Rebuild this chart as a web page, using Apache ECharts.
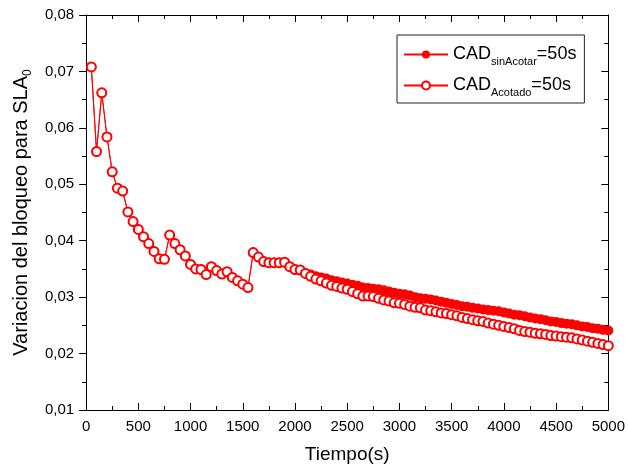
<!DOCTYPE html>
<html>
<head>
<meta charset="utf-8">
<script src="https://cdn.jsdelivr.net/npm/echarts@6/dist/echarts.min.js"></script>
<style>html,body{margin:0;padding:0;background:#fff;}#c{width:628px;height:471px;}</style>
</head>
<body>
<div id="c"></div>
<script>
const tiempo = [50,100,150,200,250,300,350,400,450,500,550,600,650,700,750,800,850,900,950,1000,
1050,1100,1150,1200,1250,1300,1350,1400,1450,1500,1550,1600,1650,1700,1750,1800,1850,1900,1950,2000,
2050,2100,2150,2200,2250,2300,2350,2400,2450,2500,2550,2600,2650,2700,2750,2800,2850,2900,2950,3000,
3050,3100,3150,3200,3250,3300,3350,3400,3450,3500,3550,3600,3650,3700,3750,3800,3850,3900,3950,4000,
4050,4100,4150,4200,4250,4300,4350,4400,4450,4500,4550,4600,4650,4700,4750,4800,4850,4900,4950,5000];

const acotado = [0.0708,0.0558,0.0662,0.0584,0.0522,0.0493,0.0488,0.0451,0.0434,0.0420,
0.0407,0.0395,0.0381,0.0368,0.0367,0.0410,0.0395,0.0384,0.0373,0.0358,
0.0350,0.0349,0.0340,0.0354,0.0347,0.0341,0.0345,0.0335,0.0329,0.0323,
0.0317,0.0379,0.0371,0.0363,0.0361,0.0361,0.0361,0.0362,0.0354,0.0349,
0.0348,0.0342,0.0337,0.0332,0.0329,0.0325,0.0321,0.0319,0.0316,0.0314,
0.0310,0.0306,0.0302,0.0302,0.0301,0.0298,0.0295,0.0293,0.0290,0.0289,
0.0287,0.0284,0.0282,0.0281,0.0277,0.0276,0.0274,0.0272,0.0271,0.0269,
0.0267,0.0264,0.0262,0.0260,0.0258,0.0257,0.0254,0.0252,0.0250,0.0248,
0.0246,0.0244,0.0241,0.0239,0.0238,0.0236,0.0235,0.0234,0.0232,0.0231,
0.0230,0.0229,0.0228,0.0226,0.0224,0.0222,0.0220,0.0218,0.0216,0.0214];

const sinAcotar = [0.0708,0.0558,0.0662,0.0584,0.0522,0.0493,0.0488,0.0451,0.0434,0.0420,
0.0407,0.0395,0.0381,0.0368,0.0367,0.0410,0.0395,0.0384,0.0373,0.0358,
0.0350,0.0349,0.0340,0.0354,0.0347,0.0341,0.0345,0.0335,0.0329,0.0323,
0.0317,0.0379,0.0371,0.0363,0.0361,0.0361,0.0361,0.0362,0.0354,0.0349,
0.0348,0.0342,0.0340,0.0337,0.0335,0.0333,0.0330,0.0328,0.0326,0.0324,
0.0322,0.0320,0.0317,0.0316,0.0315,0.0314,0.0312,0.0310,0.0308,0.0306,
0.0305,0.0303,0.0300,0.0298,0.0297,0.0296,0.0294,0.0292,0.0290,0.0288,
0.0286,0.0284,0.0283,0.0281,0.0280,0.0278,0.0277,0.0276,0.0275,0.0273,
0.0271,0.0269,0.0268,0.0266,0.0264,0.0262,0.0261,0.0259,0.0257,0.0256,
0.0254,0.0253,0.0252,0.0250,0.0248,0.0247,0.0245,0.0244,0.0242,0.0241];

const xTicks = {min: 0, max: 5000, interval: 500};
const yTicks = {min: 0.01, max: 0.08, interval: 0.01};

const FONT = '"Liberation Sans", Arial, sans-serif';
const chart = echarts.init(document.getElementById('c'), null, {renderer: 'canvas'});

const axisLine = {show: true, onZero: false, lineStyle: {color: '#000', width: 1}};

chart.setOption({
  animation: false,
  backgroundColor: '#fff',
  textStyle: {fontFamily: FONT},
  grid: {left: 86, right: 19, top: 15, bottom: 61, containLabel: false},
  legend: {
    orient: 'vertical',
    left: 397, top: 35,
    width: 187,
    padding: [7, 8, 5, 6],
    itemGap: 6,
    itemWidth: 44, itemHeight: 10,
    backgroundColor: '#fff',
    borderColor: '#222', borderWidth: 1,
    data: ['sin', 'aco'],
    formatter: function (n) {
      return n === 'sin' ? '{b|CAD}{s|sinAcotar}{b|=50s}' : '{b|CAD}{s|Acotado}{b|=50s}';
    },
    textStyle: {
      color: '#000', fontFamily: FONT,
      rich: {
        b: {fontSize: 18, fontFamily: FONT, color: '#000', lineHeight: 22},
        s: {fontSize: 11, fontFamily: FONT, color: '#000', lineHeight: 11, padding: [14, 0, 0, 0]}
      }
    }
  },
  xAxis: [{
    type: 'value', position: 'bottom',
    min: xTicks.min, max: xTicks.max, interval: xTicks.interval,
    axisLine: axisLine,
    axisTick: {show: true, inside: true, length: 7, lineStyle: {color: '#000'}},
    minorTick: {show: true, splitNumber: 2, length: 4, lineStyle: {color: '#000'}},
    splitLine: {show: false},
    axisLabel: {color: '#000', fontSize: 15, fontFamily: FONT, margin: 9,
      formatter: v => String(v)},
    name: 'Tiempo(s)', nameLocation: 'middle', nameGap: 35,
    nameTextStyle: {fontSize: 19, color: '#000', fontFamily: FONT}
  }, {
    type: 'value', position: 'top',
    min: xTicks.min, max: xTicks.max, interval: xTicks.interval,
    axisLine: axisLine,
    axisTick: {show: true, inside: true, length: 7, lineStyle: {color: '#000'}},
    minorTick: {show: true, splitNumber: 2, length: 4, lineStyle: {color: '#000'}},
    splitLine: {show: false},
    axisLabel: {show: false}
  }],
  yAxis: [{
    type: 'value', position: 'left',
    min: yTicks.min, max: yTicks.max, interval: yTicks.interval,
    axisLine: axisLine,
    axisTick: {show: true, inside: false, length: 7, lineStyle: {color: '#000'}},
    minorTick: {show: true, splitNumber: 2, length: 4, lineStyle: {color: '#000'}},
    splitLine: {show: false},
    axisLabel: {color: '#000', fontSize: 15, fontFamily: FONT, margin: 12,
      formatter: v => v.toFixed(2).replace('.', ',')},
    name: '{t|Variacion del bloqueo para SLA}{s|0}', nameLocation: 'middle', nameGap: 52,
    nameTextStyle: {
      color: '#000', fontFamily: FONT,
      rich: {
        t: {fontSize: 20, fontFamily: FONT, color: '#000', lineHeight: 24},
        s: {fontSize: 12, fontFamily: FONT, color: '#000', lineHeight: 12, padding: [14, 0, 0, 0]}
      }
    }
  }, {
    type: 'value', position: 'right',
    min: yTicks.min, max: yTicks.max, interval: yTicks.interval,
    axisLine: axisLine,
    axisTick: {show: true, inside: true, length: 7, lineStyle: {color: '#000'}},
    minorTick: {show: true, splitNumber: 2, length: 4, lineStyle: {color: '#000'}},
    splitLine: {show: false},
    axisLabel: {show: false}
  }],
  series: [{
    name: 'sin', type: 'line',
    xAxisIndex: 0, yAxisIndex: 0,
    data: tiempo.map((t, i) => [t, sinAcotar[i]]),
    symbol: 'circle', symbolSize: 10, showAllSymbol: true,
    lineStyle: {color: '#ff0000', width: 1},
    itemStyle: {color: '#ff0000', borderColor: '#ff0000', borderWidth: 0},
    z: 2
  }, {
    name: 'aco', type: 'line',
    xAxisIndex: 0, yAxisIndex: 0,
    data: tiempo.map((t, i) => [t, acotado[i]]),
    symbol: 'emptyCircle', symbolSize: 9, showAllSymbol: true,
    lineStyle: {color: '#ff0000', width: 1},
    itemStyle: {color: '#ff0000', borderColor: '#ff0000', borderWidth: 1.2},
    z: 3
  }]
});
</script>
</body>
</html>
